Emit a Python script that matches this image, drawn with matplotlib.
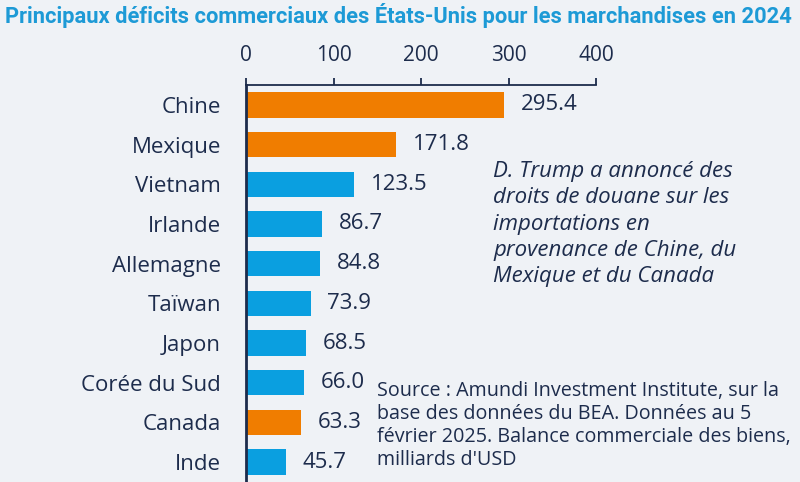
import matplotlib
matplotlib.use('Agg')
import matplotlib.pyplot as plt

# data
countries = ['Chine', 'Mexique', 'Vietnam', 'Irlande', 'Allemagne', 'Taïwan',
             'Japon', 'Corée du Sud', 'Canada', 'Inde']
deficits = [295.4, 171.8, 123.5, 86.7, 84.8, 73.9, 68.5, 66.0, 63.3, 45.7]
tariffed = ['Chine', 'Mexique', 'Canada']
xticks = [0, 100, 200, 300, 400]

# colours
bg = '#eff2f6'
navy = '#1d2c4c'
blue = '#0a9fe0'
orange = '#f07d00'
titlecolor = '#1d9ad6'

plt.rcParams['font.family'] = ['Open Sans', 'DejaVu Sans']

fig = plt.figure(figsize=(8, 4.82), dpi=100)
fig.set_facecolor(bg)
ax = fig.add_axes([246/800, 0, 350/800, 1 - 85/482])
ax.set_facecolor(bg)

colors = [orange if c in tariffed else blue for c in countries]
ypos = list(range(len(countries)))
bars = ax.barh(ypos, deficits, height=0.64, color=colors)
ax.bar_label(bars, labels=['%.1f' % v for v in deficits], padding=12,
             fontsize=16, color=navy)

ax.set_xlim(0, 400)
ax.set_ylim(len(countries) - 0.5, -0.5)
ax.set_yticks(ypos)
ax.set_yticklabels(countries, fontsize=16, color=navy)
ax.tick_params(axis='y', length=0, pad=18)

ax.xaxis.tick_top()
ax.set_xticks(xticks)
ax.set_xticklabels([str(t) for t in xticks], fontsize=15, color=navy)
ax.tick_params(axis='x', direction='out', length=5, width=1.3, color=navy, pad=9)

for s in ['right', 'bottom']:
    ax.spines[s].set_visible(False)
ax.spines['top'].set_color(navy)
ax.spines['top'].set_linewidth(1.3)
ax.spines['left'].set_color(navy)
ax.spines['left'].set_linewidth(2)

# title, sized to span the width
title = fig.text(5/800, 1 - 15/482, 'Principaux déficits commerciaux des États-Unis pour les marchandises en 2024',
                 fontsize=16, fontweight='bold', color=titlecolor, va='center', ha='left',
                 family=['Liberation Sans Narrow', 'Roboto', 'DejaVu Sans'])
fig.canvas.draw()
w = title.get_window_extent().width
title.set_fontsize(16 * 790 / w)

fig.text(493/800, 1 - 161/482,
         'D. Trump a annoncé des\ndroits de douane sur les\nimportations en\nprovenance de Chine, du\nMexique et du Canada',
         fontsize=16, style='italic', color=navy, va='top', ha='left', linespacing=1.33)

fig.text(377/800, 1 - 381/482,
         "Source : Amundi Investment Institute, sur la\nbase des données du BEA. Données au 5\nfévrier 2025. Balance commerciale des biens,\nmilliards d'USD",
         fontsize=14.2, color=navy, va='top', ha='left', linespacing=1.2)

plt.savefig('out.png', dpi=100, facecolor=bg)
